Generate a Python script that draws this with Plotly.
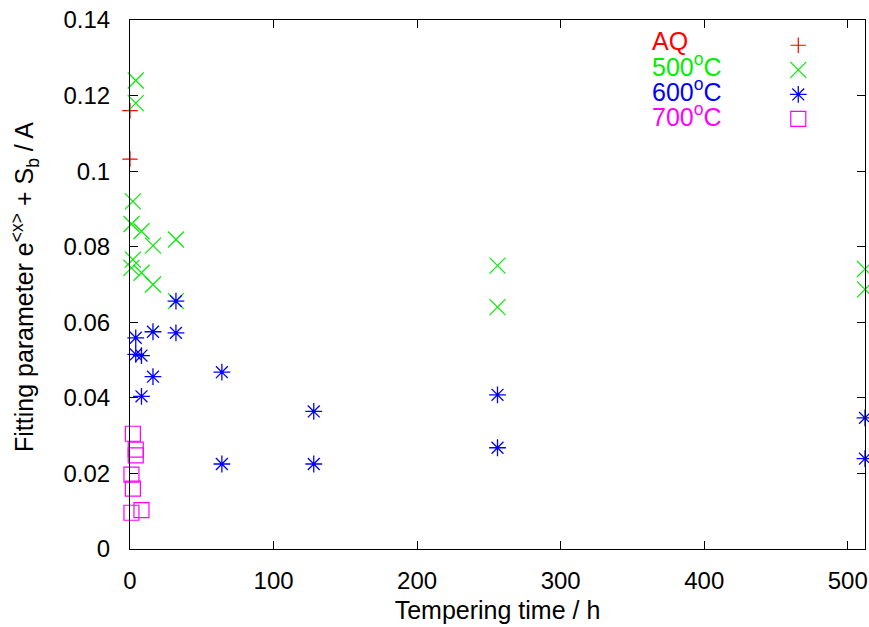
import plotly.graph_objects as go

# ---- data ----
t_aq = [0, 0]
y_aq = [0.116, 0.1032]

t_500 = [1, 1, 2, 2, 4, 4, 8, 8, 16, 16, 32, 32, 256, 256, 512, 512]
y_500 = [0.086, 0.0744, 0.092, 0.0766, 0.124, 0.118, 0.0841, 0.0731,
         0.0803, 0.070, 0.0819, 0.0656, 0.075, 0.064, 0.0741, 0.0687]

t_600 = [4, 4, 8, 8, 16, 16, 32, 32, 64, 64, 128, 128, 256, 256, 512, 512]
y_600 = [0.0559, 0.0515, 0.0512, 0.0404, 0.0575, 0.0456, 0.0656, 0.0572,
         0.0468, 0.0225, 0.0364, 0.0225, 0.0408, 0.0268, 0.0347, 0.0239]

t_700 = [1, 1, 2, 2, 4, 4, 8]
y_700 = [0.0197, 0.0096, 0.0305, 0.016, 0.0263, 0.0248, 0.0103]

series_labels = ["AQ", "500<sup>o</sup>C", "600<sup>o</sup>C", "700<sup>o</sup>C"]
series_colors = ["#ff0000", "#00ee00", "#0000ff", "#ff00ff"]

x_tickvals = [0, 100, 200, 300, 400, 500]
x_ticktext = ["0", "100", "200", "300", "400", "500"]
y_tickvals = [0, 0.02, 0.04, 0.06, 0.08, 0.1, 0.12, 0.14]
y_ticktext = ["0", "0.02", "0.04", "0.06", "0.08", "0.1", "0.12", "0.14"]

FONT = "Liberation Sans, Arial, sans-serif"

fig = go.Figure()
specs = [
    (t_aq, y_aq, "cross-thin-open", 11, 1.2),
    (t_500, y_500, "x-thin-open", 16, 1.2),
    (t_600, y_600, "asterisk-open", 14, 1.3),
    (t_700, y_700, "square-open", 15, 1.2),
]
for (xs, ys, sym, sz, lw), col in zip(specs, series_colors):
    fig.add_trace(go.Scatter(
        x=xs, y=ys, mode="markers", name="",
        marker=dict(symbol=sym, size=sz, color=col, line=dict(color=col, width=lw)),
        cliponaxis=False, showlegend=True,
    ))

# legend text (coloured, left of the symbols as in the reference)
ann_y = [0.961, 0.914, 0.867, 0.820]
for lab, col, yy in zip(series_labels, series_colors, ann_y):
    fig.add_annotation(
        x=0.708, y=yy, xref="paper", yref="paper", text=lab, showarrow=False,
        xanchor="left", yanchor="middle",
        font=dict(family=FONT, size=25, color=col),
    )

# y-axis title
fig.add_annotation(
    x=-0.143, y=0.495, xref="paper", yref="paper",
    text="Fitting parameter e<sup>&lt;x&gt;</sup> + S<sub>b</sub> / A",
    textangle=-90, showarrow=False, xanchor="center", yanchor="middle",
    font=dict(family=FONT, size=25, color="black"),
)

axis_common = dict(
    showline=True, linecolor="black", linewidth=1, mirror="ticks",
    ticks="inside", ticklen=8, tickwidth=1, tickcolor="black",
    showgrid=False, zeroline=False, automargin=False,
    tickfont=dict(family=FONT, size=24, color="black"),
)

fig.update_layout(
    width=869, height=627,
    margin=dict(l=130, r=4, t=20, b=78),
    paper_bgcolor="white", plot_bgcolor="white",
    xaxis=dict(range=[0, 512], tickvals=x_tickvals, ticktext=x_ticktext,
               ticklabelstandoff=10,
               title=dict(text="Tempering time / h", standoff=8,
                          font=dict(family=FONT, size=25, color="black")),
               **axis_common),
    yaxis=dict(range=[0, 0.14], tickvals=y_tickvals, ticktext=y_ticktext,
               ticklabelstandoff=14,
               **axis_common),
    legend=dict(x=0.882, y=0.985, xanchor="left", yanchor="top",
                bgcolor="rgba(0,0,0,0)", font=dict(size=16.6), itemwidth=30),
    showlegend=True,
)

fig.write_html(
    "out.html",
    config={"responsive": False, "displayModeBar": False},
    post_script="document.body.style.margin='0px';document.body.style.overflow='hidden';",
)
